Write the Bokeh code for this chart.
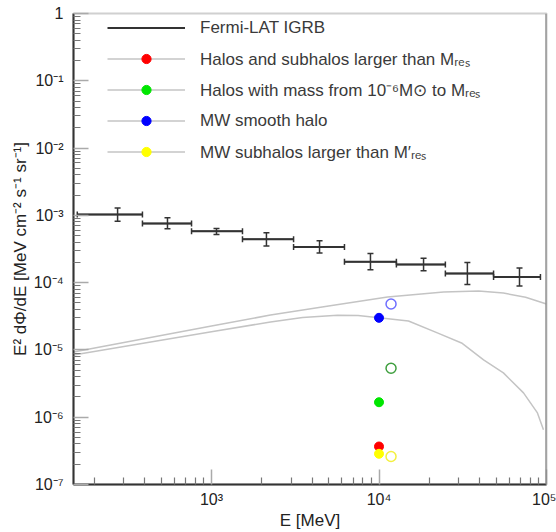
import numpy as np
from bokeh.plotting import figure
from bokeh.models import (Range1d, FixedTicker, CustomJSTickFormatter, Span, Legend,
                          LegendItem, Whisker, TeeHead, ColumnDataSource)
from bokeh.embed import file_html
from bokeh.resources import INLINE

FONT = "Liberation Sans"

# Fermi-LAT isotropic gamma-ray background, E^2 dPhi/dE [MeV cm^-2 s^-1 sr^-1]
igrb_e = [275, 546, 1071, 2128, 4416, 8892, 18450, 33700, 69000]
igrb_bin_lo = [158, 387, 760, 1531, 3090, 6220, 12700, 24900, 48300]
igrb_bin_hi = [387, 760, 1531, 3090, 6220, 12700, 24900, 48300, 92000]
igrb_flux = [1.03e-3, 7.6e-4, 5.8e-4, 4.4e-4, 3.4e-4, 2.04e-4, 1.86e-4, 1.37e-4, 1.21e-4]
igrb_flux_lo = [8.2e-4, 6.3e-4, 5.2e-4, 3.5e-4, 2.75e-4, 1.55e-4, 1.5e-4, 9.4e-5, 8.9e-5]
igrb_flux_hi = [1.29e-3, 9.2e-4, 6.4e-4, 5.5e-4, 4.2e-4, 2.7e-4, 2.3e-4, 2.0e-4, 1.65e-4]

# spectral shapes (grey curves)
shape_a_e = [150, 1000, 2250, 5000, 11250, 24300, 39300, 55300, 75000, 100000]
shape_a_flux = [9.33e-6, 2.26e-5, 3.3e-5, 4.5e-5, 6.11e-5, 7.26e-5, 7.5e-5, 7.01e-5, 6.05e-5, 4.81e-5]
shape_b_e = [150, 1000, 2250, 3500, 5650, 7500, 10000, 15000, 22300, 31100, 42100, 55300,
             72900, 88300, 95900]
shape_b_flux = [8.43e-6, 1.87e-5, 2.6e-5, 3.03e-5, 3.28e-5, 3.25e-5, 3.0e-5, 2.69e-5, 1.79e-5,
                1.27e-5, 7.1e-6, 4.56e-6, 2.3e-6, 1.16e-6, 6.5e-7]

# flux at 10 GeV for each component (filled) and the alternative estimates (open)
comp_labels = ["Halos and subhalos larger than Mᵣₑₛ",
               "Halos with mass from 10⁻⁶M⊙ to Mᵣₑₛ",
               "MW smooth halo",
               "MW subhalos larger than M′ᵣₑₛ"]
comp_colors = ["#ff0000", "#00e600", "#0000ff", "#ffff00"]
comp_e = [1.0e4, 1.0e4, 1.0e4, 1.0e4]
comp_flux = [3.67e-7, 1.67e-6, 3.0e-5, 2.86e-7]

alt_e = [1.18e4, 1.18e4, 1.18e4]
alt_flux = [4.81e-5, 5.35e-6, 2.61e-7]
alt_colors = ["#6f6fff", "#3f9f3f", "#f4f040"]

p = figure(width=556, height=532, x_axis_type="log", y_axis_type="log",
           x_range=Range1d(150, 1e5), y_range=Range1d(1e-7, 1),
           output_backend="svg", toolbar_location=None,
           min_border_left=73, min_border_right=10, min_border_top=13, min_border_bottom=47)
p.grid.visible = False
p.outline_line_color = "#d0d0d0"
p.outline_line_width = 2

sup = CustomJSTickFormatter(code="""
const e = Math.round(Math.log10(tick));
if (e === 0) return "1";
const m = {"-":"\u207b","0":"\u2070","1":"\u00b9","2":"\u00b2","3":"\u00b3","4":"\u2074",
           "5":"\u2075","6":"\u2076","7":"\u2077","8":"\u2078","9":"\u2079"};
return "10" + String(e).split("").map(c => m[c]).join("");
""")

x_major = [1e3, 1e4, 1e5]
x_minor = [m * 10.0 ** k for k in range(2, 5) for m in range(2, 10)]
y_major = [10.0 ** k for k in range(-7, 1)]
y_minor = [m * 10.0 ** k for k in range(-7, 0) for m in range(2, 10)]

p.xaxis.ticker = FixedTicker(ticks=x_major, minor_ticks=x_minor)
p.yaxis.ticker = FixedTicker(ticks=y_major, minor_ticks=y_minor)

for ax in (p.xaxis[0], p.yaxis[0]):
    ax.formatter = sup
    ax.axis_line_color = "#333333"
    ax.axis_line_width = 2
    ax.major_tick_in = 15
    ax.major_tick_out = 0
    ax.minor_tick_in = 7
    ax.minor_tick_out = 0
    ax.major_tick_line_color = "#aaaaaa"
    ax.major_tick_line_width = 1.5
    ax.minor_tick_line_color = "#777777"
    ax.minor_tick_line_width = 1.2
    ax.major_label_text_font = FONT
    ax.major_label_text_font_size = "16px"
    ax.major_label_text_color = "#222222"
    ax.axis_label_text_font = FONT
    ax.axis_label_text_font_size = "17px"
    ax.axis_label_text_font_style = "normal"
    ax.axis_label_text_color = "#222222"

p.xaxis.axis_label = "E [MeV]"
p.xaxis.major_label_standoff = 6
p.xaxis.axis_label_standoff = 0
p.yaxis.axis_label = "E² dΦ/dE [MeV cm⁻² s⁻¹ sr⁻¹]"
p.yaxis.major_label_standoff = 10
p.yaxis.axis_label_standoff = 1

# right-hand frame edge
p.add_layout(Span(location=1e5, dimension="height", line_color="#777777", line_width=2))

# grey spectral curves
curve_a = p.line(shape_a_e, shape_a_flux, line_color="#c4c4c4", line_width=1.5)
curve_b = p.line(shape_b_e, shape_b_flux, line_color="#c4c4c4", line_width=1.5)

# IGRB: energy bins and error bars
igrb = ColumnDataSource(dict(e=igrb_e, lo=igrb_bin_lo, hi=igrb_bin_hi, f=igrb_flux,
                             flo=igrb_flux_lo, fhi=igrb_flux_hi))
bins = p.segment(x0="lo", y0="f", x1="hi", y1="f", source=igrb, line_color="#333333", line_width=2)
p.add_layout(Whisker(source=igrb, base="f", lower="lo", upper="hi", dimension="width",
                     line_color="#333333", line_width=1.5,
                     lower_head=TeeHead(size=6, line_color="#333333", line_width=1.5),
                     upper_head=TeeHead(size=6, line_color="#333333", line_width=1.5)))
p.add_layout(Whisker(source=igrb, base="e", lower="flo", upper="fhi", dimension="height",
                     line_color="#333333", line_width=1.5,
                     lower_head=TeeHead(size=6, line_color="#333333", line_width=1.5),
                     upper_head=TeeHead(size=6, line_color="#333333", line_width=1.5)))

# open markers: alternative estimates
p.scatter(alt_e, alt_flux, marker="circle", size=10, fill_color=None,
          line_color=alt_colors, line_width=1.5)

# filled markers: component fluxes at 10 GeV
comp_r = {}
for ci in [2, 1, 0, 3]:
    comp_r[ci] = p.scatter([comp_e[ci]], [comp_flux[ci]], marker="circle", size=9,
                           fill_color=comp_colors[ci], line_color=comp_colors[ci])

items = [LegendItem(label="Fermi-LAT IGRB", renderers=[bins])]
for ci in range(4):
    items.append(LegendItem(label=comp_labels[ci], renderers=[curve_a, comp_r[ci]]))

legend = Legend(items=items, location=(34, 321), padding=0, margin=0, spacing=8,
                glyph_width=78, glyph_height=23, label_height=23, label_standoff=15,
                label_text_font=FONT, label_text_font_size="17px", label_text_color="#3a3a3a",
                background_fill_alpha=0, border_line_alpha=0)
p.add_layout(legend)

open("out.html", "w").write(file_html(p, INLINE))
